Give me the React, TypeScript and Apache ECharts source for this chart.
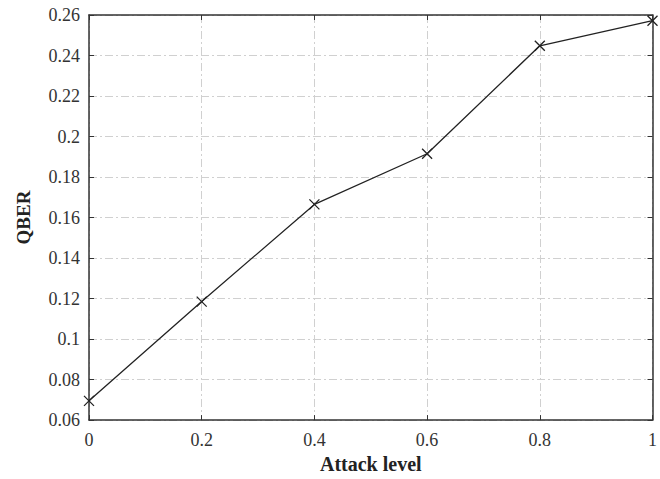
import React, { useEffect, useRef } from "react";
import * as echarts from "echarts";

const attackLevels = [0, 0.2, 0.4, 0.6, 0.8, 1];
const qberValues = [0.0695, 0.1185, 0.1665, 0.1915, 0.2448, 0.2572];
const xTicks = [0, 0.2, 0.4, 0.6, 0.8, 1];
const yTicks = [0.06, 0.08, 0.1, 0.12, 0.14, 0.16, 0.18, 0.2, 0.22, 0.24, 0.26];

const FONT = "'Liberation Serif', 'DejaVu Serif', serif";

export default function App() {
  const ref = useRef<HTMLDivElement>(null);
  useEffect(() => {
    if (!ref.current) return;
    const chart = echarts.init(ref.current, null, { renderer: "svg" });
    const gridLine = { show: true, lineStyle: { color: "#d0d0d0", width: 1, type: [8, 3, 2, 3] as any } };
    const baseX = {
      type: "value" as const,
      min: xTicks[0],
      max: xTicks[xTicks.length - 1],
      interval: 0.2,
      axisLine: { show: true, onZero: false, lineStyle: { color: "#333", width: 1.5 } },
      axisTick: { show: true, inside: true, length: 5, lineStyle: { color: "#333" } },
    };
    const baseY = {
      type: "value" as const,
      min: yTicks[0],
      max: yTicks[yTicks.length - 1],
      interval: 0.02,
      axisLine: { show: true, onZero: false, lineStyle: { color: "#333", width: 1.5 } },
      axisTick: { show: true, inside: true, length: 5, lineStyle: { color: "#333" } },
    };
    chart.setOption({
      animation: false,
      backgroundColor: "#fff",
      grid: { left: 89, right: 1, top: 15, bottom: 54, containLabel: false },
      xAxis: [
        {
          ...baseX,
          position: "bottom",
          name: "Attack level",
          nameLocation: "middle",
          nameGap: 27,
          nameTextStyle: { fontFamily: FONT, fontSize: 20, fontWeight: "bold", color: "#222" },
          axisLabel: {
            fontFamily: FONT,
            fontSize: 18,
            color: "#333",
            margin: 11,
            formatter: (v: number) => String(+v.toFixed(2)),
          },
          splitLine: gridLine,
        },
        {
          ...baseX,
          position: "top",
          axisLabel: { show: false },
          splitLine: { show: false },
        },
      ],
      yAxis: [
        {
          ...baseY,
          position: "left",
          name: "QBER",
          nameLocation: "middle",
          nameGap: 56,
          nameTextStyle: { fontFamily: FONT, fontSize: 19, fontWeight: "bold", color: "#222" },
          axisLabel: {
            fontFamily: FONT,
            fontSize: 18,
            color: "#333",
            margin: 9,
            formatter: (v: number) => String(+v.toFixed(2)),
          },
          splitLine: gridLine,
        },
        {
          ...baseY,
          position: "right",
          axisLabel: { show: false },
          splitLine: { show: false },
        },
      ],
      series: [
        {
          type: "line",
          data: attackLevels.map((x, i) => [x, qberValues[i]]),
          symbol: "path://M0,0L10,10M10,0L0,10",
          symbolSize: 10,
          showSymbol: true,
          lineStyle: { color: "#222", width: 1.3 },
          itemStyle: { color: "none", borderColor: "#222", borderWidth: 1.3 },
          clip: false,
        },
      ],
    });
    return () => chart.dispose();
  }, []);
  return <div ref={ref} style={{ width: 660, height: 479, position: "absolute", left: 0, top: 0 }} />;
}
